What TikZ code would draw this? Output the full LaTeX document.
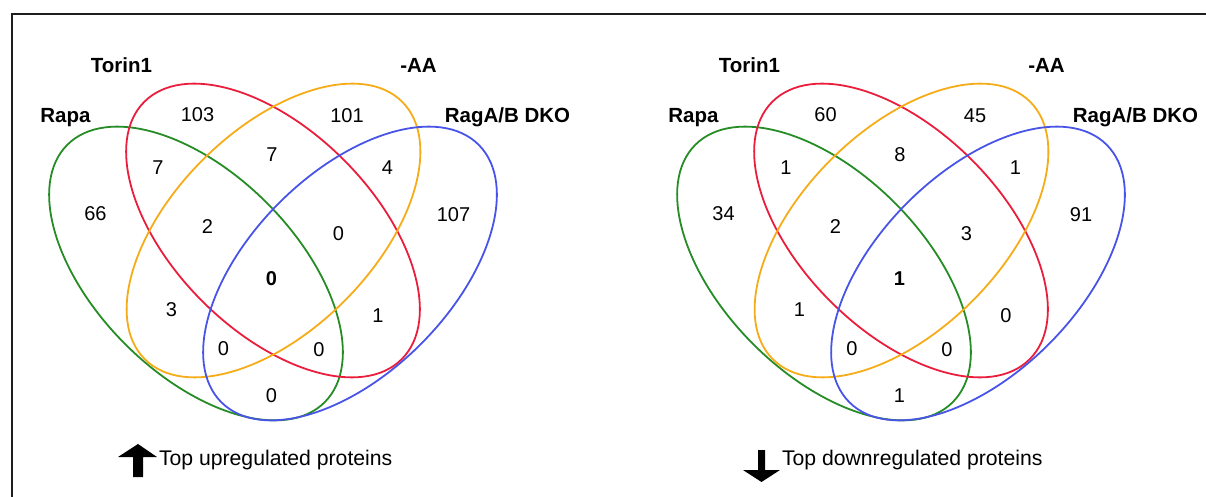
\documentclass[tikz,border=0pt]{standalone}
\usepackage{fontspec}
\setmainfont{Liberation Sans}
\definecolor{vred}{RGB}{234,30,60}
\definecolor{vorange}{RGB}{246,172,24}
\definecolor{vgreen}{RGB}{38,140,38}
\definecolor{vblue}{RGB}{72,84,232}
\definecolor{frame}{RGB}{30,30,30}
\begin{document}
\begin{tikzpicture}[x=1pt,y=-1pt,
  every node/.style={inner sep=0pt,outer sep=0pt},
  num/.style={font=\fontsize{20}{24}\selectfont},
  bnum/.style={font=\fontsize{20}{24}\selectfont\bfseries},
  lab/.style={font=\fontsize{20.5}{24}\selectfont\bfseries,anchor=base},
  capt/.style={font=\fontsize{21.2}{24}\selectfont,anchor=base west},
  venn/.style={line width=1.8pt},
  arr/.style={fill=black,draw=none}]
\useasboundingbox (0,0) rectangle (1206,497);
% frame
\draw[frame,line width=2pt] (12,497) -- (12,14) -- (1206,14);

% ---------- left Venn ----------
\draw[venn,vgreen,rotate around={-45:(196,273.5)}] (196,273.5) ellipse [x radius=182, y radius=100];
\draw[venn,vred,rotate around={-45:(273,230.5)}] (273,230.5) ellipse [x radius=182, y radius=100];
\draw[venn,vorange,rotate around={45:(273.5,230.5)}] (273.5,230.5) ellipse [x radius=182, y radius=100];
\draw[venn,vblue,rotate around={45:(350,273.5)}] (350,273.5) ellipse [x radius=182, y radius=100];

\node[lab] (lTorin) at (121.5,73) {Torin1};
\node[lab] (lAA) at (418.5,73) {-AA};
\node[lab] (lRapa) at (65.5,123) {Rapa};
\node[lab] (lRag) at (507.5,123) {RagA/B DKO};

\node[num] (la1) at (197.5,114.5) {103};
\node[num] (la2) at (347,115.5) {101};
\node[num] (la3) at (158,167.5) {7};
\node[num] (la4) at (272,154.5) {7};
\node[num] (la5) at (387.5,168) {4};
\node[num] (la6) at (95.5,213.5) {66};
\node[num] (la7) at (207.5,226.5) {2};
\node[num] (la8) at (338.5,234) {0};
\node[num] (la9) at (453.5,214.5) {107};
\node[bnum] (la10) at (271.5,279) {0};
\node[num] (la11) at (171.5,310) {3};
\node[num] (la12) at (378,316) {1};
\node[num] (la13) at (223.5,349) {0};
\node[num] (la14) at (319,349.5) {0};
\node[num] (la15) at (271.5,395.5) {0};

\fill[arr] (138,444) -- (157,457) -- (143,457) -- (143,477) -- (133,477) -- (133,457) -- (118,457) -- cycle;
\node[capt] (lcap) at (159,465) {Top upregulated proteins};

% ---------- right Venn ----------
\draw[venn,vgreen,rotate around={-45:(824,273.5)}] (824,273.5) ellipse [x radius=182, y radius=100];
\draw[venn,vred,rotate around={-45:(901,230.5)}] (901,230.5) ellipse [x radius=182, y radius=100];
\draw[venn,vorange,rotate around={45:(901.5,230.5)}] (901.5,230.5) ellipse [x radius=182, y radius=100];
\draw[venn,vblue,rotate around={45:(978,273.5)}] (978,273.5) ellipse [x radius=182, y radius=100];

\node[lab] (rTorin) at (749.5,73) {Torin1};
\node[lab] (rAA) at (1046.5,73) {-AA};
\node[lab] (rRapa) at (693.5,123) {Rapa};
\node[lab] (rRag) at (1135.5,123) {RagA/B DKO};

\node[num] (ra1) at (825.5,114.5) {60};
\node[num] (ra2) at (975,115.5) {45};
\node[num] (ra3) at (786,167.5) {1};
\node[num] (ra4) at (900,154.5) {8};
\node[num] (ra5) at (1015.5,168) {1};
\node[num] (ra6) at (723.5,213.5) {34};
\node[num] (ra7) at (835.5,226.5) {2};
\node[num] (ra8) at (966.5,234) {3};
\node[num] (ra9) at (1081,214.5) {91};
\node[bnum] (ra10) at (899.5,279) {1};
\node[num] (ra11) at (799.5,310) {1};
\node[num] (ra12) at (1006,316) {0};
\node[num] (ra13) at (852,349) {0};
\node[num] (ra14) at (947,349.5) {0};
\node[num] (ra15) at (899.5,395.5) {1};

\fill[arr] (758,450) -- (765,450) -- (765,470) -- (780,470) -- (761.5,482) -- (743,470) -- (758,470) -- cycle;
\node[capt] (rcap) at (782,465) {Top downregulated proteins};
\end{tikzpicture}
\end{document}
